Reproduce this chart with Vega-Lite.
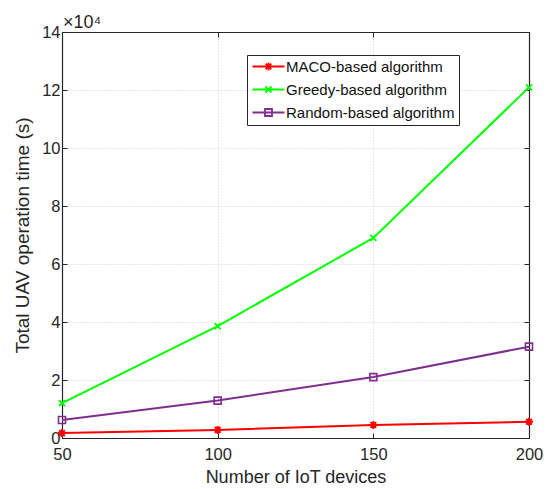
{
  "$schema": "https://vega.github.io/schema/vega-lite/v6.json",
  "width": 467,
  "height": 406,
  "autosize": "none",
  "padding": {"left": 62, "top": 32, "right": 19, "bottom": 51},
  "background": "white",
  "title": {"text": "×10⁴", "anchor": "start", "frame": "group", "fontSize": 18, "fontWeight": "normal", "font": "Liberation Sans", "color": "#262626", "offset": 6, "dx": 1, "dy": 14},
  "config": {
    "font": "Liberation Sans",
    "view": {"stroke": null},
    "axis": {
      "domainColor": "#262626", "domainWidth": 1.2,
      "tickColor": "#262626", "tickSize": -5, "tickWidth": 1,
      "labelFont": "Liberation Sans", "labelFontSize": 16.5, "labelColor": "#262626", "labelFlush": false,
      "titleFont": "Liberation Sans", "titleFontSize": 18, "titleFontWeight": "normal", "titleColor": "#262626",
      "gridColor": "#cfcfcf", "gridDash": [1, 2], "gridWidth": 1
    },
    "legend": {
      "orient": "none", "legendX": 185, "legendY": 23,
      "strokeColor": "#262626", "strokeWidth": 1, "fillColor": "white",
      "padding": 4, "rowPadding": 7, "labelLimit": 400,
      "labelFont": "Liberation Sans", "labelFontSize": 15, "labelColor": "#111111",
      "symbolSize": 100, "symbolStrokeWidth": 1.8, "symbolOffset": 10, "labelOffset": 10
    }
  },
  "data": {
    "values": [
      {"n": 50, "alg": "MACO-based algorithm", "time": 1700},
      {"n": 100, "alg": "MACO-based algorithm", "time": 2800},
      {"n": 150, "alg": "MACO-based algorithm", "time": 4500},
      {"n": 200, "alg": "MACO-based algorithm", "time": 5600},
      {"n": 50, "alg": "Greedy-based algorithm", "time": 12000},
      {"n": 100, "alg": "Greedy-based algorithm", "time": 38600},
      {"n": 150, "alg": "Greedy-based algorithm", "time": 69000},
      {"n": 200, "alg": "Greedy-based algorithm", "time": 120900},
      {"n": 50, "alg": "Random-based algorithm", "time": 6200},
      {"n": 100, "alg": "Random-based algorithm", "time": 12900},
      {"n": 150, "alg": "Random-based algorithm", "time": 21000},
      {"n": 200, "alg": "Random-based algorithm", "time": 31500}
    ]
  },
  "resolve": {"axis": {"x": "independent", "y": "independent"}},
  "layer": [
    {
      "mark": {"type": "line", "strokeWidth": 2},
      "encoding": {
        "x": {"field": "n", "type": "quantitative", "scale": {"domain": [50, 200], "nice": false, "zero": false},
              "axis": {"values": [50, 100, 150, 200], "title": "Number of IoT devices", "grid": true, "labelPadding": 13, "titlePadding": 6}},
        "y": {"field": "time", "type": "quantitative", "scale": {"domain": [0, 140000], "nice": false},
              "axis": {"values": [0, 20000, 40000, 60000, 80000, 100000, 120000, 140000], "labelExpr": "datum.value / 10000", "title": "Total UAV operation time (s)", "titleFontSize": 19, "grid": true, "labelPadding": 7, "titlePadding": 9}},
        "color": {"field": "alg", "type": "nominal",
                  "scale": {"domain": ["MACO-based algorithm", "Greedy-based algorithm", "Random-based algorithm"], "range": ["#ff0000", "#00ff00", "#7e2f8e"]},
                  "legend": {"title": null,
                    "encode": {"symbols": {"update": {
                      "fill": {"value": "transparent"},
                      "strokeWidth": {"value": 1.8},
                      "shape": {"signal": "datum.value === 'MACO-based algorithm' ? 'M-3.2,0H3.2M0,-0.8V0.8M-0.8,0H0.8M-0.57,-0.57L0.57,0.57M-0.57,0.57L0.57,-0.57' : datum.value === 'Greedy-based algorithm' ? 'M-3.2,0H3.2M-0.6,-0.6L0.6,0.6M-0.6,0.6L0.6,-0.6' : 'M-3.2,0H3.2M-0.7,-0.7H0.7V0.7H-0.7Z'"}
                    }}}}}
      }
    },
    {
      "transform": [{"filter": {"field": "alg", "equal": "MACO-based algorithm"}}],
      "mark": {"type": "point", "filled": false, "size": 100, "strokeWidth": 2, "opacity": 1, "color": "#ff0000",
               "shape": "M0,-0.8V0.8M-0.8,0H0.8M-0.57,-0.57L0.57,0.57M-0.57,0.57L0.57,-0.57"},
      "encoding": {
        "x": {"field": "n", "type": "quantitative", "axis": null},
        "y": {"field": "time", "type": "quantitative", "axis": null}
      }
    },
    {
      "transform": [{"filter": {"field": "alg", "equal": "Greedy-based algorithm"}}],
      "mark": {"type": "point", "filled": false, "size": 100, "strokeWidth": 1.8, "opacity": 1, "color": "#00ff00",
               "shape": "M-0.6,-0.6L0.6,0.6M-0.6,0.6L0.6,-0.6"},
      "encoding": {
        "x": {"field": "n", "type": "quantitative", "axis": null},
        "y": {"field": "time", "type": "quantitative", "axis": null}
      }
    },
    {
      "transform": [{"filter": {"field": "alg", "equal": "Random-based algorithm"}}],
      "mark": {"type": "point", "filled": false, "size": 100, "strokeWidth": 1.6, "opacity": 1, "color": "#7e2f8e",
               "shape": "M-0.7,-0.7H0.7V0.7H-0.7Z"},
      "encoding": {
        "x": {"field": "n", "type": "quantitative", "axis": null},
        "y": {"field": "time", "type": "quantitative", "axis": null}
      }
    },
    {
      "mark": {"type": "point", "opacity": 0},
      "encoding": {
        "x": {"field": "n", "type": "quantitative", "axis": {"orient": "top", "values": [50, 100, 150, 200], "labels": false, "title": null, "grid": false}},
        "y": {"field": "time", "type": "quantitative", "axis": {"orient": "right", "values": [0, 20000, 40000, 60000, 80000, 100000, 120000, 140000], "labels": false, "title": null, "grid": false}}
      }
    }
  ]
}
